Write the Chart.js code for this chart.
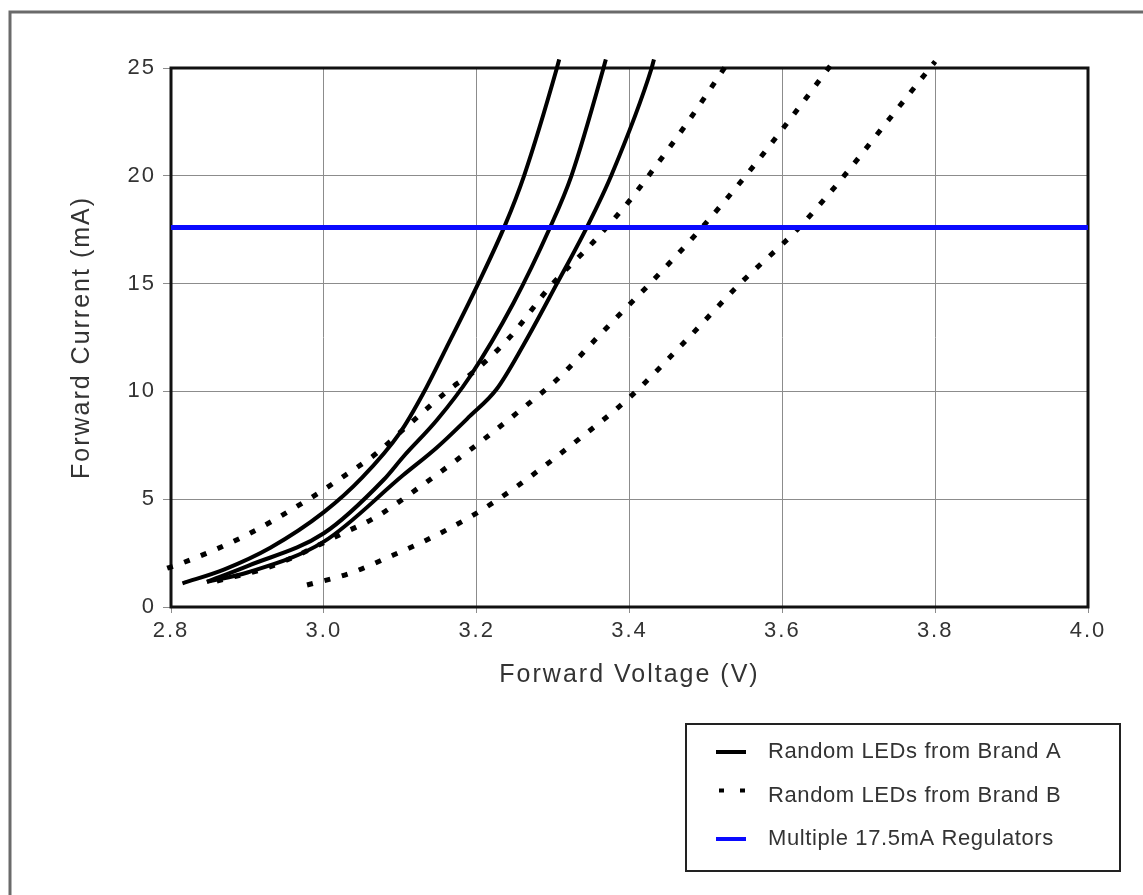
<!DOCTYPE html>
<html>
<head>
<meta charset="utf-8">
<title>LED Forward Voltage vs Forward Current</title>
<script src="https://cdn.jsdelivr.net/npm/chart.js@4.4.1/dist/chart.umd.min.js"></script>
<style>
  html, body { margin: 0; padding: 0; background: #fff; }
  #chart { display: block; }
</style>
</head>
<body>
<canvas id="chart" width="1143" height="895"></canvas>
<script>
// Axis ticks
const xTickValues = [2.8, 3.0, 3.2, 3.4, 3.6, 3.8, 4.0];
const yTickValues = [0, 5, 10, 15, 20, 25];

// Series labels (also used by the legend box)
const labelA = 'Random LEDs from Brand A';
const labelB = 'Random LEDs from Brand B';
const labelReg = 'Multiple 17.5mA Regulators';

// Brand A, three LEDs (solid)  - volts / milliamps
const brandA1Volts = [2.815, 2.87, 2.93, 3.0, 3.05, 3.1, 3.13, 3.16, 3.202, 3.237, 3.262, 3.305, 3.308];
const brandA1Amps  = [1.1, 1.75, 2.75, 4.4, 6.0, 8.1, 9.9, 12.0, 15, 17.7, 20, 25, 25.4];
const brandA2Volts = [2.847, 2.9, 3.0, 3.078, 3.104, 3.148, 3.191, 3.248, 3.296, 3.324, 3.366, 3.369];
const brandA2Amps  = [1.17, 1.9, 3.42, 5.89, 6.97, 8.67, 10.68, 14.09, 17.6, 20, 25, 25.4];
const brandA3Volts = [2.847, 2.9, 3.0, 3.104, 3.148, 3.191, 3.226, 3.262, 3.305, 3.344, 3.376, 3.429, 3.432];
const brandA3Amps  = [1.17, 1.6, 3.03, 6.12, 7.4, 8.85, 10.1, 12.2, 15, 17.6, 20, 25, 25.4];

// Brand B, three LEDs (dotted)
const brandB1Volts = [2.795, 2.814, 2.899, 2.982, 3.025, 3.069, 3.108, 3.169, 3.191, 3.244, 3.296, 3.353, 3.399, 3.427, 3.475, 3.53];
const brandB1Amps  = [1.8, 2.03, 3.34, 5.04, 6.04, 7.13, 8.36, 10.22, 10.76, 12.54, 14.86, 16.94, 18.8, 20.1, 22.43, 25.3];
const brandB2Volts = [2.86, 2.93, 3.025, 3.069, 3.126, 3.191, 3.252, 3.309, 3.361, 3.427, 3.492, 3.553, 3.606, 3.667];
const brandB2Amps  = [1.2, 1.87, 3.42, 4.19, 5.58, 7.28, 8.98, 10.68, 12.62, 15.01, 17.49, 20.04, 22.43, 25.3];
const brandB3Volts = [2.978, 3.034, 3.091, 3.13, 3.196, 3.252, 3.335, 3.401, 3.466, 3.545, 3.619, 3.68, 3.732, 3.8];
const brandB3Amps  = [1.02, 1.56, 2.41, 3.03, 4.27, 5.58, 7.82, 9.75, 12.07, 15.01, 17.49, 19.96, 22.28, 25.3];

// Regulator current (flat line across the whole voltage range)
const regulatorVolts = [2.8, 4.0];
const regulatorAmps  = [17.6, 17.6];

const FONT = '"Liberation Sans", Arial, Helvetica, sans-serif';
const TEXT = '#333';

function series(volts, amps) {
    return volts.map((v, i) => ({ x: v, y: amps[i] }));
}

function curve(label, volts, amps, dashed) {
    return {
        label: label,
        data: series(volts, amps),
        showLine: true,
        fill: false,
        pointRadius: 0,
        borderColor: '#000',
        borderWidth: dashed ? 5 : 4,
        borderDash: dashed ? [6, 12] : [],
        borderCapStyle: 'butt',
        cubicInterpolationMode: 'monotone',
        clip: { left: 8, top: 9, right: 0, bottom: 0 },
        order: 1
    };
}

// Frame round the plot area, drawn under the curves
const frame = {
    id: 'frame',
    beforeDatasetsDraw(chart) {
        const { ctx, chartArea: a } = chart;
        ctx.save();
        ctx.strokeStyle = '#111';
        ctx.lineWidth = 3;
        ctx.strokeRect(a.left, a.top, a.right - a.left, a.bottom - a.top);
        ctx.restore();
    }
};

// Wider letter spacing like the original bitmap fonts
const spacing = {
    id: 'spacing',
    beforeDraw(chart) {
        chart.ctx.letterSpacing = '2px';
    }
};

// Outer picture border + boxed legend in the lower right
const extras = {
    id: 'extras',
    afterDraw(chart) {
        const ctx = chart.ctx;
        ctx.save();
        ctx.letterSpacing = '0px';

        ctx.strokeStyle = '#6a6a6a';
        ctx.lineWidth = 3;
        ctx.beginPath();
        ctx.moveTo(10, 895);
        ctx.lineTo(10, 12);
        ctx.lineTo(1143, 12);
        ctx.stroke();

        ctx.strokeStyle = '#222';
        ctx.lineWidth = 2;
        ctx.strokeRect(686, 724, 434, 147);

        // one entry per distinct label, styled from its first dataset
        const seen = [];
        chart.data.datasets.forEach(ds => {
            if (!seen.find(s => s.label === ds.label)) seen.push(ds);
        });
        const order = [labelA, labelB, labelReg];
        seen.sort((a, b) => order.indexOf(a.label) - order.indexOf(b.label));

        ctx.font = '22px ' + FONT;
        ctx.letterSpacing = '0.6px';
        ctx.textBaseline = 'middle';
        ctx.fillStyle = TEXT;
        seen.forEach((ds, i) => {
            const y = 752 + i * 43.5;
            ctx.save();
            ctx.strokeStyle = ds.borderColor;
            ctx.lineCap = 'butt';
            if (ds.borderDash && ds.borderDash.length) {
                ctx.lineWidth = 4;
                ctx.setLineDash([5, 16]);
                ctx.beginPath();
                ctx.moveTo(719, y - 5);
                ctx.lineTo(748, y - 5);
                ctx.stroke();
            } else {
                ctx.lineWidth = 4;
                ctx.beginPath();
                ctx.moveTo(716, y);
                ctx.lineTo(746, y);
                ctx.stroke();
            }
            ctx.restore();
            ctx.fillText(ds.label, 768, y);
        });
        ctx.restore();
    }
};

const datasets = [
    {
        label: labelReg,
        data: series(regulatorVolts, regulatorAmps),
        showLine: true,
        fill: false,
        pointRadius: 0,
        borderColor: '#0a0aff',
        borderWidth: 5,
        order: 0
    },
    curve(labelA, brandA1Volts, brandA1Amps, false),
    curve(labelA, brandA2Volts, brandA2Amps, false),
    curve(labelA, brandA3Volts, brandA3Amps, false),
    curve(labelB, brandB1Volts, brandB1Amps, true),
    curve(labelB, brandB2Volts, brandB2Amps, true),
    curve(labelB, brandB3Volts, brandB3Amps, true)
];

new Chart(document.getElementById('chart').getContext('2d'), {
    type: 'scatter',
    data: { datasets: datasets },
    plugins: [spacing, frame, extras],
    options: {
        responsive: false,
        animation: false,
        events: [],
        layout: { padding: { left: 62, right: 55, top: 68, bottom: 198 } },
        plugins: {
            legend: { display: false },
            tooltip: { enabled: false }
        },
        scales: {
            x: {
                type: 'linear',
                min: 2.8,
                max: 4.0,
                afterBuildTicks: scale => { scale.ticks = xTickValues.map(v => ({ value: v })); },
                afterFit: scale => { scale.height = 90; },
                border: { display: false },
                grid: { color: '#8c8c8c', lineWidth: 1, tickLength: 6, tickColor: '#8c8c8c' },
                ticks: {
                    color: TEXT,
                    font: { family: FONT, size: 22 },
                    padding: 5,
                    maxRotation: 0,
                    callback: v => Number(v).toFixed(1)
                },
                title: {
                    display: true,
                    text: 'Forward Voltage (V)',
                    color: TEXT,
                    font: { family: FONT, size: 25 },
                    padding: { top: 0, bottom: 7 }
                }
            },
            y: {
                type: 'linear',
                min: 0,
                max: 25,
                afterBuildTicks: scale => { scale.ticks = yTickValues.map(v => ({ value: v })); },
                afterFit: scale => { scale.width = 109; },
                border: { display: false },
                grid: { color: '#8c8c8c', lineWidth: 1, tickLength: 8, tickColor: '#8c8c8c' },
                ticks: {
                    color: TEXT,
                    font: { family: FONT, size: 22 },
                    padding: 7
                },
                title: {
                    display: true,
                    text: 'Forward Current (mA)',
                    color: TEXT,
                    font: { family: FONT, size: 25 },
                    padding: { top: 5, bottom: 0 }
                }
            }
        }
    }
});
</script>
</body>
</html>
